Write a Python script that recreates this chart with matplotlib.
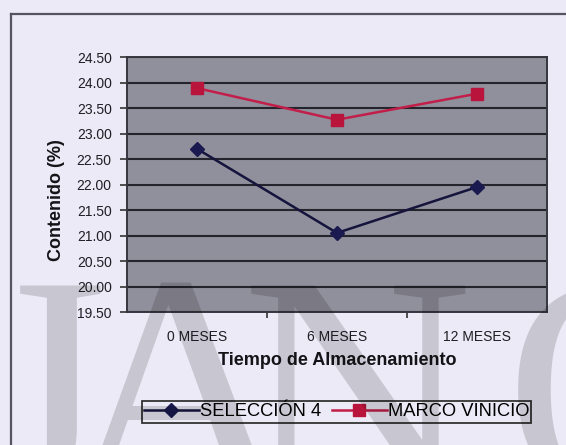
import matplotlib
matplotlib.use('Agg')
from matplotlib import pyplot as plt
from matplotlib.lines import Line2D
from matplotlib.ticker import FixedLocator, FormatStrFormatter

meses = ['0 MESES', '6 MESES', '12 MESES']
seleccion4 = [22.70, 21.05, 21.95]
marco_vinicio = [23.89, 23.27, 23.78]
yticks = [19.5, 20.0, 20.5, 21.0, 21.5, 22.0, 22.5, 23.0, 23.5, 24.0, 24.5]

bg = '#ebeaf6'
plt.rcParams['font.family'] = ['Liberation Sans', 'DejaVu Sans']

W, H = 566, 445
fig = plt.figure(figsize=(W/100, H/100), dpi=100, facecolor=bg)
ax = fig.add_axes([127/W, 1-312/H, 420/W, 255/H])
ax.set_facecolor('#908f9c')

x = list(range(len(meses)))
ax.plot(x, seleccion4, color='#14143c', lw=1.8, marker='D', ms=7,
        mfc='#1a1a50', mec='#1a1a50', label='SELECCIÓN 4', zorder=4)
ax.plot(x, marco_vinicio, color='#c21e4a', lw=1.8, marker='s', ms=9,
        mfc='#b8143c', mec='#b8143c', label='MARCO VINICIO', zorder=4)

ax.set_xlim(-0.5, 2.5)
ax.set_ylim(19.5, 24.5)
ax.set_yticks(yticks)
ax.yaxis.set_major_formatter(FormatStrFormatter('%.2f'))
ax.grid(axis='y', color='#24242c', lw=1.5, zorder=1)
ax.set_axisbelow(True)

ax.set_xticks(x)
ax.set_xticklabels(meses)
ax.xaxis.set_minor_locator(FixedLocator([0.5, 1.5]))
ax.tick_params(axis='x', which='major', length=0, pad=13, labelsize=10, labelcolor='#1e1e24')
ax.tick_params(axis='x', which='minor', length=4, width=1.2, color='#333', direction='out')
ax.tick_params(axis='y', length=5, width=1.2, color='#333', direction='out', pad=6,
               labelsize=10, labelcolor='#1e1e24')

for s in ax.spines.values():
    s.set_color('#36363f')
    s.set_linewidth(1.4)

ax.set_xlabel('Tiempo de Almacenamiento', fontsize=13, fontweight='bold',
              color='#141418', labelpad=6)
ax.set_ylabel('Contenido (%)', fontsize=13, fontweight='bold', color='#141418')
ax.yaxis.set_label_coords(-0.148, 0.44)

leg = fig.legend(loc='center', bbox_to_anchor=(336.5/W, 1-412/H), ncol=2,
                 frameon=True, fancybox=False, fontsize=13.2, handlelength=3.0,
                 handletextpad=0.05, columnspacing=0.6, borderpad=0.12,
                 borderaxespad=0, edgecolor='#333', facecolor=bg)
leg.get_frame().set_linewidth(1.3)
leg.get_frame().set_alpha(1)

# outer chart frame (only top and left edges fall inside the canvas)
fig.add_artist(Line2D([11/W, 11/W], [0, 1-14/H], color='#55555f', lw=1.6))
fig.add_artist(Line2D([11/W, 1], [1-14/H, 1-14/H], color='#55555f', lw=1.6))

# watermark lettering
for ch, px in [('J', -18), ('A', 63), ('N', 242), ('O', 505)]:
    fig.text(px/W, -0.11, ch, fontsize=230, family='Liberation Serif',
             color='black', alpha=0.15, zorder=20)

fig.savefig('out.png', dpi=100, facecolor=bg)
